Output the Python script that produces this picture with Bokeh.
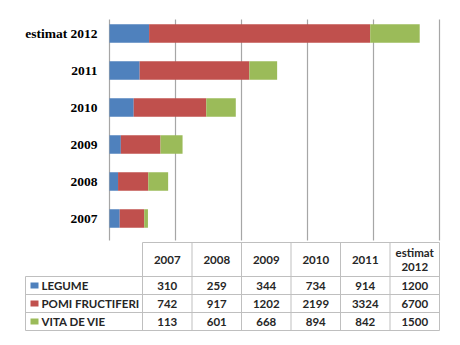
from bokeh.plotting import figure
from bokeh.models import Range1d
from bokeh.core.properties import value
from bokeh.embed import file_html
from bokeh.resources import INLINE

# ---- data ----
categories = ["2007", "2008", "2009", "2010", "2011", "estimat 2012"]
series_names = ["LEGUME", "POMI FRUCTIFERI", "VITA DE VIE"]
legume = [310, 259, 344, 734, 914, 1200]
pomi = [742, 917, 1202, 2199, 3324, 6700]
vita = [113, 601, 668, 894, 842, 1500]
x_ticks = [0, 2000, 4000, 6000, 8000, 10000]
colors = ["#4F81BD", "#C0504D", "#9BBB59"]

W, H = 460, 345
# layout of chart area (window pixels)
x0_px, x_end_px = 109.0, 439.0
k = x_ticks[-1] / (x_end_px - x0_px)
band = 37.0
first_center_px = 218.0
grid_top, grid_bot = 19.0, 240.0

p = figure(width=W, height=H,
           x_range=Range1d(-x0_px * k, (W - x0_px) * k),
           y_range=Range1d((first_center_px - H) / band, first_center_px / band),
           output_backend="svg", toolbar_location=None,
           min_border=0, min_border_left=0, min_border_right=0,
           min_border_top=0, min_border_bottom=0)
p.extra_x_ranges = {"px": Range1d(0, W)}
p.extra_y_ranges = {"px": Range1d(H, 0)}
p.axis.visible = False
p.grid.visible = False
p.outline_line_color = None

ypos = list(range(len(categories)))

# gridlines
p.segment(x0=x_ticks, x1=x_ticks, y0=[grid_top] * len(x_ticks), y1=[grid_bot] * len(x_ticks),
          y_range_name="px", line_color="#A6A6A6", line_width=1.2)

# stacked bars
left = [0] * len(categories)
for vals, col in zip([legume, pomi, vita], colors):
    right = [a + b for a, b in zip(left, vals)]
    p.hbar(y=ypos, left=left, right=right, height=0.5, fill_color=col, line_color=None)
    left = right

# category labels
p.text(x=[0] * len(categories), y=ypos, text=categories, x_offset=-12,
       text_font=value("Liberation Serif"), text_font_style="bold", text_font_size="13.5px",
       text_align="right", text_baseline="middle", text_color="#000000")

# ---- table (window pixel coordinates) ----
col_left = 142.0
col_w = (439.0 - 142.0) / len(categories)
lab_left = 25.0
top = 242.0
head_bot = 276.0
row_h = 18.0
n_rows = len(series_names)
tbl_bot = head_bot + row_h * n_rows
right_edge = col_left + col_w * len(categories)
border = "#BFBFBF"

xs0, ys0, xs1, ys1 = [], [], [], []
xs0.append(col_left); ys0.append(top); xs1.append(right_edge); ys1.append(top)
for r in range(n_rows + 1):
    y = head_bot + r * row_h
    xs0.append(lab_left); ys0.append(y); xs1.append(right_edge); ys1.append(y)
for c in range(len(categories) + 1):
    x = col_left + c * col_w
    xs0.append(x); ys0.append(top); xs1.append(x); ys1.append(tbl_bot)
xs0.append(lab_left); ys0.append(head_bot); xs1.append(lab_left); ys1.append(tbl_bot)
p.segment(x0=xs0, y0=ys0, x1=xs1, y1=ys1, x_range_name="px", y_range_name="px",
          line_color=border, line_width=1)

font = value("Lato")
fsize = "11.5px"
tcol = "#262626"
hx = [col_left + (i + 0.5) * col_w for i in range(len(categories))]
hy = [(top + head_bot) / 2] * len(categories)
htxt = [c.replace(" ", "\n") for c in categories]
p.text(x=hx, y=hy, text=htxt, x_range_name="px", y_range_name="px",
       text_font=font, text_font_style="bold", text_font_size=fsize,
       text_align="center", text_baseline="middle", text_color=tcol, text_line_height=1.05)

for r, (name, vals, colr) in enumerate(zip(series_names, [legume, pomi, vita], colors)):
    yc = head_bot + (r + 0.5) * row_h
    p.rect(x=[34], y=[yc], width=8, height=6, x_range_name="px", y_range_name="px",
           fill_color=colr, line_color=None)
    p.text(x=[41], y=[yc], text=[name], x_range_name="px", y_range_name="px",
           text_font=font, text_font_style="bold", text_font_size=fsize,
           text_align="left", text_baseline="middle", text_color=tcol)
    p.text(x=hx, y=[yc] * len(vals), text=[str(v) for v in vals],
           x_range_name="px", y_range_name="px",
           text_font=font, text_font_style="bold", text_font_size=fsize,
           text_align="center", text_baseline="middle", text_color=tcol)

open("out.html", "w").write(file_html(p, INLINE))
